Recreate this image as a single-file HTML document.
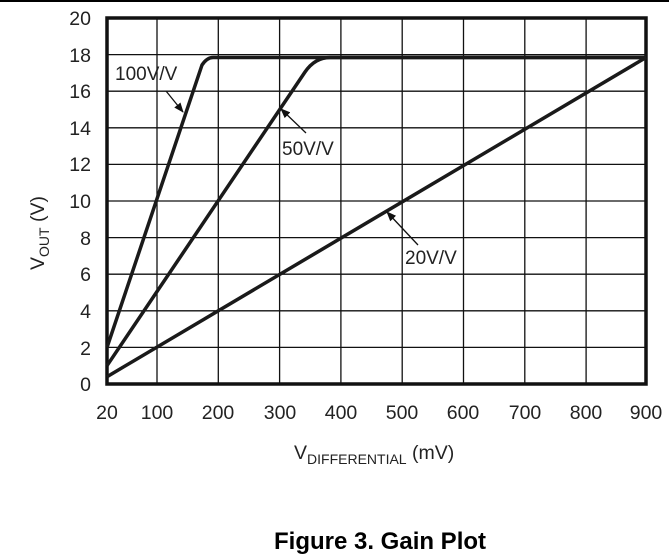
<!DOCTYPE html>
<html><head><style>body{margin:0;background:#fff}svg{display:block}</style></head><body>
<svg width="669" height="557" viewBox="0 0 669 557" font-family="Liberation Sans, sans-serif" fill="#222">
<defs><marker id="a" markerWidth="10" markerHeight="8" refX="9" refY="4" orient="auto" markerUnits="userSpaceOnUse"><path d="M0,0 L10,4 L0,8 Z" fill="#111"/></marker></defs>
<line x1="0" y1="1" x2="669" y2="1" stroke="#000" stroke-width="2"/>
<g stroke="#111" stroke-width="1.3">
<line x1="157" y1="18" x2="157" y2="384"/><line x1="218.3" y1="18" x2="218.3" y2="384"/><line x1="279.6" y1="18" x2="279.6" y2="384"/><line x1="340.9" y1="18" x2="340.9" y2="384"/><line x1="402.2" y1="18" x2="402.2" y2="384"/><line x1="463.5" y1="18" x2="463.5" y2="384"/><line x1="524.8" y1="18" x2="524.8" y2="384"/><line x1="586.1" y1="18" x2="586.1" y2="384"/>
<line x1="107" y1="54.6" x2="646" y2="54.6"/><line x1="107" y1="91.2" x2="646" y2="91.2"/><line x1="107" y1="127.8" x2="646" y2="127.8"/><line x1="107" y1="164.4" x2="646" y2="164.4"/><line x1="107" y1="201" x2="646" y2="201"/><line x1="107" y1="237.6" x2="646" y2="237.6"/><line x1="107" y1="274.2" x2="646" y2="274.2"/><line x1="107" y1="310.8" x2="646" y2="310.8"/><line x1="107" y1="347.4" x2="646" y2="347.4"/>
</g>
<rect x="107" y="18" width="539" height="366" fill="none" stroke="#111" stroke-width="3.5"/>
<g fill="none" stroke="#1a1a1a" stroke-width="3.5" stroke-linejoin="round">
<path d="M107,347.4 L202,65 Q207,57.5 213,57.5 L646,57.5"/>
<path d="M107,365.7 L305,72 Q315,57.5 330,57.5 L646,57.5"/>
<path d="M107,376.7 L646,57.5"/>
</g>
<g stroke="#111" stroke-width="1.3" marker-end="url(#a)">
<line x1="166" y1="91" x2="183" y2="112"/>
<line x1="306" y1="133" x2="281" y2="109"/>
<line x1="418" y1="245" x2="387" y2="212"/>
</g>
<g font-size="19">
<text x="115" y="80">100V/V</text>
<text x="282" y="155">50V/V</text>
<text x="405" y="264">20V/V</text>
</g>
<g font-size="19.5" text-anchor="end">
<text x="91" y="25">20</text><text x="91" y="62">18</text><text x="91" y="98">16</text><text x="91" y="135">14</text><text x="91" y="171">12</text><text x="91" y="208">10</text><text x="91" y="245">8</text><text x="91" y="281">6</text><text x="91" y="318">4</text><text x="91" y="355">2</text><text x="91" y="391">0</text>
</g>
<g font-size="19.5" text-anchor="middle">
<text x="107" y="419">20</text><text x="157" y="419">100</text><text x="218" y="419">200</text><text x="280" y="419">300</text><text x="341" y="419">400</text><text x="402" y="419">500</text><text x="463" y="419">600</text><text x="525" y="419">700</text><text x="586" y="419">800</text><text x="646" y="419">900</text>
</g>
<text x="294" y="459" font-size="19.5">V<tspan font-size="14" dy="5">DIFFERENTIAL</tspan><tspan dy="-5"> (mV)</tspan></text>
<text transform="translate(44,270) rotate(-90)" font-size="19.5">V<tspan font-size="14" dy="5">OUT</tspan><tspan dy="-5"> (V)</tspan></text>
<text x="380" y="549" font-size="24" font-weight="bold" text-anchor="middle" fill="#000">Figure 3. Gain Plot</text>
</svg>
</body></html>
